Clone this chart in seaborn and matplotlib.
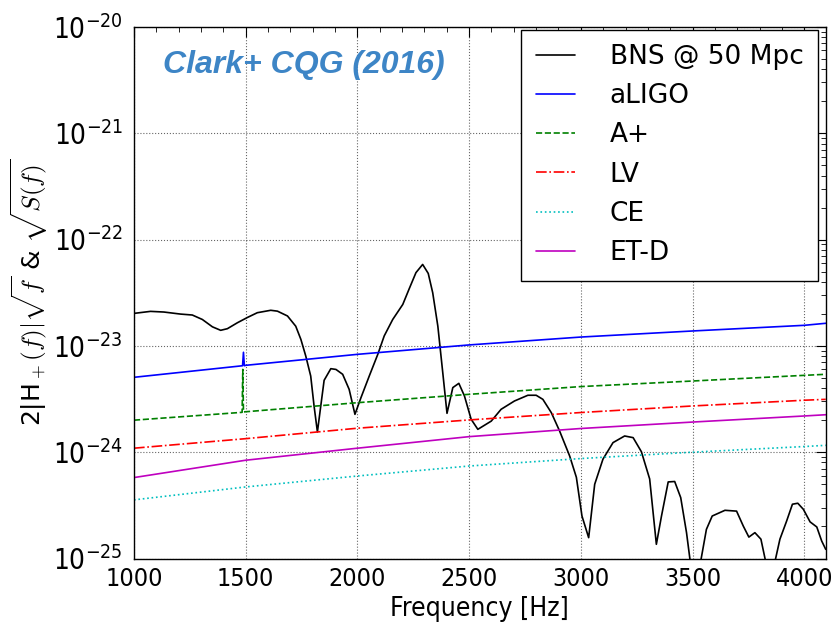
import numpy as np
import matplotlib
matplotlib.use("Agg")
import matplotlib.pyplot as plt
import matplotlib.ticker as mticker
import seaborn as sns

# BNS waveform
bns_freq = [1000, 1074, 1134, 1208, 1261, 1306, 1351, 1388, 1418, 1463, 1508, 1552,
            1612, 1642, 1687, 1724, 1747, 1769, 1791, 1806, 1821, 1836, 1851, 1881,
            1904, 1934, 1963, 1989, 2016, 2053, 2091, 2120, 2158, 2203, 2232, 2262,
            2292, 2317, 2337, 2360, 2382, 2401, 2427, 2454, 2479, 2509, 2539, 2599,
            2643, 2703, 2763, 2800, 2830, 2868, 2905, 2950, 2980, 3005, 3035, 3062,
            3099, 3144, 3196, 3234, 3271, 3308, 3338, 3361, 3391, 3420, 3447, 3473,
            3491, 3505, 3536, 3562, 3588, 3645, 3697, 3727, 3752, 3779, 3806, 3827,
            3845, 3869, 3891, 3921, 3947, 3971, 3996, 4026, 4056, 4078, 4096]
bns_amp = [2.02e-23, 2.11e-23, 2.08e-23, 1.99e-23, 1.95e-23, 1.77e-23, 1.51e-23, 1.40e-23,
           1.45e-23, 1.65e-23, 1.85e-23, 2.05e-23, 2.16e-23, 2.12e-23, 1.91e-23, 1.53e-23,
           1.15e-23, 8.0e-24, 5.2e-24, 2.72e-24, 1.55e-24, 2.72e-24, 4.74e-24, 6.1e-24,
           6.0e-24, 5.4e-24, 3.9e-24, 2.27e-24, 3.26e-24, 5.2e-24, 8.3e-24, 1.24e-23,
           1.77e-23, 2.45e-23, 3.45e-23, 4.88e-23, 5.83e-23, 4.80e-23, 3.16e-23, 1.53e-23,
           5.6e-24, 2.32e-24, 4.05e-24, 4.44e-24, 3.38e-24, 2.04e-24, 1.64e-24, 1.96e-24,
           2.53e-24, 3.03e-24, 3.43e-24, 3.43e-24, 3.14e-24, 2.35e-24, 1.58e-24, 9.2e-25,
           5.8e-25, 2.51e-25, 1.57e-25, 4.99e-25, 8.6e-25, 1.23e-24, 1.42e-24, 1.37e-24,
           1.01e-24, 5.6e-25, 1.36e-25, 2.51e-25, 5.25e-25, 5.3e-25, 3.74e-25, 1.75e-25,
           8.9e-26, 5.0e-26, 9.3e-26, 1.88e-25, 2.51e-25, 2.84e-25, 2.79e-25, 2.02e-25,
           1.59e-25, 1.75e-25, 1.52e-25, 9.4e-26, 5.0e-26, 9.4e-26, 1.52e-25, 2.25e-25,
           3.24e-25, 3.31e-25, 2.9e-25, 2.21e-25, 1.98e-25, 1.46e-25, 1.22e-25]

# detector noise curves
noise_freq = [1000, 1500, 2000, 2500, 3000, 3500, 4000, 4096]
aligo_freq = [1000, 1486, 1490, 1494, 1500, 2000, 2500, 3000, 3500, 4000, 4096]
aligo_asd = [5.06e-24, 6.5e-24, 8.7e-24, 6.5e-24, 6.56e-24, 8.32e-24, 1.02e-23,
             1.21e-23, 1.38e-23, 1.56e-23, 1.63e-23]
aplus_freq = [1000, 1484, 1487, 1490, 1500, 2000, 2500, 3000, 3500, 4000, 4096]
aplus_asd = [2.0e-24, 2.37e-24, 6.0e-24, 2.39e-24, 2.40e-24, 2.92e-24, 3.50e-24,
             4.14e-24, 4.67e-24, 5.28e-24, 5.40e-24]
lv_asd = [1.09e-24, 1.34e-24, 1.68e-24, 2.01e-24, 2.36e-24, 2.72e-24, 3.08e-24, 3.14e-24]
ce_asd = [3.56e-25, 4.71e-25, 5.97e-25, 7.41e-25, 8.71e-25, 1.0e-24, 1.13e-24, 1.16e-24]
etd_asd = [5.77e-25, 8.4e-25, 1.09e-24, 1.40e-24, 1.67e-24, 1.92e-24, 2.19e-24, 2.25e-24]

x_ticks = [1000, 1500, 2000, 2500, 3000, 3500, 4000]
y_ticks = [1e-25, 1e-24, 1e-23, 1e-22, 1e-21, 1e-20]

sns.set_style("white")
plt.rcParams['font.family'] = ['DejaVu Sans']
plt.rcParams['mathtext.fontset'] = 'cm'
for key in ['text.color', 'axes.labelcolor', 'xtick.color', 'ytick.color']:
    plt.rcParams[key] = 'k'

fig = plt.figure(figsize=(8.4, 6.25), dpi=100)
ax = fig.add_axes([0.1595, 0.1064, 0.8235, 0.8506])

sns.lineplot(x=bns_freq, y=bns_amp, ax=ax, color='k', lw=1.2, label='BNS @ 50 Mpc')
sns.lineplot(x=aligo_freq, y=aligo_asd, ax=ax, color='b', lw=1.2, label='aLIGO')
sns.lineplot(x=aplus_freq, y=aplus_asd, ax=ax, color='g', lw=1.2, ls='--', label='A+')
sns.lineplot(x=noise_freq, y=lv_asd, ax=ax, color='r', lw=1.2, ls='-.', label='LV')
sns.lineplot(x=noise_freq, y=ce_asd, ax=ax, color='c', lw=1.2, ls=':', label='CE')
sns.lineplot(x=noise_freq, y=etd_asd, ax=ax, color='m', lw=1.2, label='ET-D')

ax.set_yscale('log')
ax.set_xlim(1000, 4096)
ax.set_ylim(1e-25, 1e-20)
ax.set_xticks(x_ticks)
ax.xaxis.set_minor_locator(mticker.MultipleLocator(100))
ax.set_yticks(y_ticks)
ax.yaxis.set_minor_locator(mticker.LogLocator(base=10, subs=np.arange(2, 10), numticks=20))
ax.yaxis.set_minor_formatter(mticker.NullFormatter())

ax.grid(True, which='major', color='k', ls=':', lw=0.8, alpha=0.6)
ax.tick_params(which='both', direction='in', top=True, right=True, color='k')
ax.tick_params(which='major', length=7, width=0.8)
ax.tick_params(which='minor', length=3.5, width=0.6)
ax.tick_params(axis='y', labelsize=20, pad=8)
ax.tick_params(axis='x', labelsize=18, pad=6)
for lab in ax.get_xticklabels() + ax.get_yticklabels():
    lab.set_fontstretch('condensed')
for sp in ax.spines.values():
    sp.set_color('k')
    sp.set_linewidth(1.0)

ax.set_xlabel('Frequency [Hz]', fontsize=19, fontstretch='condensed', labelpad=4)
ax.set_ylabel('2|H' + r'$_+(f)|\sqrt{f}$' + ' & ' + r'$\sqrt{S(f)}$', fontsize=18)
ax.yaxis.set_label_coords(-0.121, 0.5)

ax.text(0.042, 0.928, 'Clark+ CQG (2016)', transform=ax.transAxes, fontsize=23,
        fontweight='bold', fontstyle='italic', family=['Liberation Sans'],
        color='#3d85c6', va='center', ha='left')

leg = ax.legend(loc='upper right', bbox_to_anchor=(0.989, 0.995), borderaxespad=0,
                fontsize=19, frameon=True, fancybox=False, framealpha=1,
                edgecolor='k', handlelength=1.5, handletextpad=1.3, labelspacing=0.5,
                borderpad=0.55)
leg.get_frame().set_linewidth(1.0)

fig.savefig('out.png', dpi=100)
